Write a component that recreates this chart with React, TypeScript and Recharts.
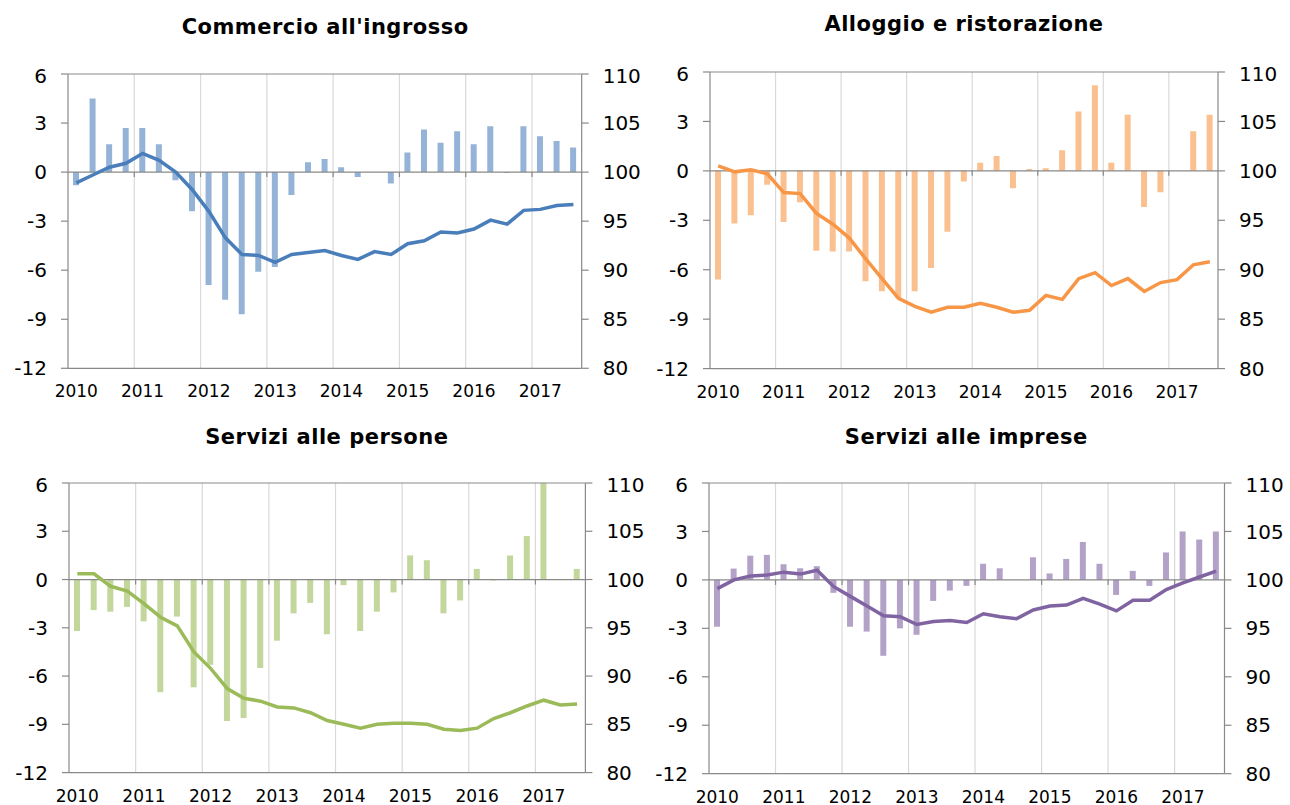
import { ComposedChart, Bar, Line, XAxis, YAxis, CartesianGrid, ReferenceLine } from 'recharts';

// trimestri 2010T1 - 2017T3
const quarters = [
  '2010T1', '2010T2', '2010T3', '2010T4',
  '2011T1', '2011T2', '2011T3', '2011T4',
  '2012T1', '2012T2', '2012T3', '2012T4',
  '2013T1', '2013T2', '2013T3', '2013T4',
  '2014T1', '2014T2', '2014T3', '2014T4',
  '2015T1', '2015T2', '2015T3', '2015T4',
  '2016T1', '2016T2', '2016T3', '2016T4',
  '2017T1', '2017T2', '2017T3',
];

const leftTicks = [-12, -9, -6, -3, 0, 3, 6];
const rightTicks = [80, 85, 90, 95, 100, 105, 110];
const yearBreaks = [4, 8, 12, 16, 20, 24, 28];

// variazioni (scala sinistra) e indice 2010=100 (scala destra)
const commercioVar = [
  -0.8, 4.5, 1.7, 2.7, 2.7, 1.7, -0.5, -2.4,
  -6.9, -7.8, -8.7, -6.1, -5.8, -1.4, 0.6, 0.8,
  0.3, -0.3, 0.0, -0.7, 1.2, 2.6, 1.8, 2.5,
  1.7, 2.8, -0.05, 2.8, 2.2, 1.9, 1.5,
];
const commercioIdx = [
  98.9, 99.7, 100.5, 100.9, 101.9, 101.2, 100.0, 98.2,
  96.0, 93.3, 91.6, 91.5, 90.8, 91.6, 91.8, 92.0,
  91.5, 91.1, 91.9, 91.6, 92.7, 93.0, 93.9, 93.8,
  94.2, 95.1, 94.7, 96.1, 96.2, 96.6, 96.7,
];

const alloggioVar = [
  -6.6, -3.2, -2.7, -0.85, -3.1, -1.9, -4.85, -4.9,
  -4.9, -6.7, -7.3, -7.7, -7.3, -5.9, -3.7, -0.65,
  0.5, 0.9, -1.05, 0.12, 0.16, 1.25, 3.6, 5.2,
  0.5, 3.4, -2.2, -1.3, 0.0, 2.4, 3.4,
];
const alloggioIdx = [
  100.5, 99.9, 100.1, 99.7, 97.8, 97.7, 95.7, 94.6,
  93.2, 91.1, 89.1, 87.1, 86.3, 85.7, 86.2, 86.2,
  86.6, 86.2, 85.7, 85.9, 87.4, 87.0, 89.1, 89.7,
  88.4, 89.1, 87.8, 88.7, 89.0, 90.5, 90.8,
];

const personeVar = [
  -3.2, -1.9, -2.0, -1.7, -2.6, -7.0, -2.3, -6.7,
  -5.3, -8.8, -8.6, -5.5, -3.8, -2.1, -1.45, -3.4,
  -0.35, -3.2, -2.0, -0.8, 1.5, 1.2, -2.1, -1.3,
  0.66, -0.06, 1.5, 2.7, 6.0, 0.04, 0.66,
];
const personeIdx = [
  100.6, 100.6, 99.3, 98.8, 97.5, 96.1, 95.2, 92.5,
  90.8, 88.7, 87.7, 87.4, 86.8, 86.7, 86.2, 85.4,
  85.0, 84.6, 85.0, 85.1, 85.1, 85.0, 84.5, 84.35,
  84.6, 85.6, 86.2, 86.9, 87.5, 87.0, 87.1,
];

const impreseVar = [
  -2.9, 0.7, 1.5, 1.55, 0.97, 0.72, 0.85, -0.8,
  -2.9, -3.2, -4.7, -3.0, -3.4, -1.3, -0.66, -0.37,
  1.0, 0.72, 0.0, 1.4, 0.4, 1.3, 2.35, 1.0,
  -0.93, 0.56, -0.37, 1.7, 3.0, 2.5, 3.0,
];
const impreseIdx = [
  99.1, 100.0, 100.4, 100.5, 100.8, 100.6, 101.0, 99.3,
  98.3, 97.3, 96.3, 96.2, 95.4, 95.7, 95.8, 95.6,
  96.5, 96.2, 96.0, 96.9, 97.3, 97.4, 98.1, 97.5,
  96.8, 97.9, 97.9, 99.0, 99.7, 100.3, 100.9,
];

const AXIS = '#898989';
const GRID = '#D9D9D9';
const FONT = '"DejaVu Sans", Verdana, sans-serif';

interface PanelProps {
  title: string;
  titleTop: number;
  left: number;
  top: number;
  right: number;
  bottom: number;
  bars: number[];
  index: number[];
  barColor: string;
  lineColor: string;
}

function ZeroAxis(props: any) {
  const { x1, x2, y1 } = props;
  const step = (x2 - x1) / quarters.length;
  return (
    <g>
      <line x1={x1} x2={x2} y1={y1} y2={y1} stroke={AXIS} strokeWidth={1.2} />
      {yearBreaks.map((k) => (
        <line key={k} x1={x1 + k * step} x2={x1 + k * step} y1={y1} y2={y1 + 5} stroke={AXIS} strokeWidth={1.2} />
      ))}
    </g>
  );
}

function Panel({ title, titleTop, left, top, right, bottom, bars, index, barColor, lineColor }: PanelProps) {
  const axisW = 70;
  const plotW = right - left;
  const plotH = bottom - top;
  const data = quarters.map((q, i) => ({ q, v: bars[i], idx: index[i] }));
  const tickStyle = { fontSize: 20, fill: '#000', fontFamily: FONT };

  return (
    <>
      <div
        style={{
          position: 'absolute',
          left: left,
          top: titleTop,
          width: plotW,
          textAlign: 'center',
          fontFamily: FONT,
          fontWeight: 'bold',
          fontSize: 21,
          letterSpacing: 0.5,
          color: '#000',
          whiteSpace: 'nowrap',
        }}
      >
        {title}
      </div>
      <div style={{ position: 'absolute', left: left - axisW, top: top - 10 }}>
        <ComposedChart
          width={plotW + 2 * axisW}
          height={plotH + 10 + 40}
          data={data}
          margin={{ top: 10, right: 0, left: 0, bottom: 0 }}
          barCategoryGap="62%"
        >
          <CartesianGrid
            horizontal={false}
            stroke={GRID}
            strokeWidth={1.2}
            verticalCoordinatesGenerator={({ offset }: any) =>
              yearBreaks.map((k) => offset.left + (k * offset.width) / quarters.length)
            }
          />
          <XAxis
            dataKey="q"
            interval={3}
            tickLine={false}
            tickSize={0}
            tickMargin={17}
            height={40}
            axisLine={{ stroke: AXIS, strokeWidth: 1.2 }}
            tick={{ fontSize: 17, fill: '#000', fontFamily: FONT }}
            tickFormatter={(v: string) => v.slice(0, 4)}
          />
          <YAxis
            yAxisId="left"
            orientation="left"
            width={axisW}
            domain={[-12, 6]}
            ticks={leftTicks}
            allowDataOverflow
            tickSize={7}
            tickMargin={14}
            axisLine={{ stroke: AXIS, strokeWidth: 1.2 }}
            tickLine={{ stroke: AXIS, strokeWidth: 1.2 }}
            tick={tickStyle}
          />
          <YAxis
            yAxisId="right"
            orientation="right"
            width={axisW}
            domain={[80, 110]}
            ticks={rightTicks}
            allowDataOverflow
            tickSize={7}
            tickMargin={14}
            axisLine={{ stroke: AXIS, strokeWidth: 1.2 }}
            tickLine={{ stroke: AXIS, strokeWidth: 1.2 }}
            tick={{ ...tickStyle, textAnchor: 'start' }}
          />
          <ReferenceLine yAxisId="left" y={6} stroke={AXIS} strokeWidth={1.2} />
          <Bar yAxisId="left" dataKey="v" fill={barColor} barSize={6} isAnimationActive={false} />
          <ReferenceLine yAxisId="left" y={0} shape={ZeroAxis} />
          <Line
            yAxisId="right"
            dataKey="idx"
            type="linear"
            stroke={lineColor}
            strokeWidth={3.5}
            dot={false}
            isAnimationActive={false}
          />
        </ComposedChart>
      </div>
    </>
  );
}

export default function App() {
  return (
    <div style={{ position: 'absolute', left: 0, top: 0, width: 1290, height: 805, background: '#fff' }}>
      <Panel
        title="Commercio all'ingrosso"
        titleTop={15}
        left={68.3}
        top={74}
        right={582}
        bottom={368.3}
        bars={commercioVar}
        index={commercioIdx}
        barColor="#95B3D7"
        lineColor="#4A7EBB"
      />
      <Panel
        title="Alloggio e ristorazione"
        titleTop={12}
        left={710}
        top={71.7}
        right={1218}
        bottom={368.3}
        bars={alloggioVar}
        index={alloggioIdx}
        barColor="#FAC090"
        lineColor="#F79646"
      />
      <Panel
        title="Servizi alle persone"
        titleTop={425}
        left={68.6}
        top={482.7}
        right={585}
        bottom={772.3}
        bars={personeVar}
        index={personeIdx}
        barColor="#C3D69B"
        lineColor="#9BBB59"
      />
      <Panel
        title="Servizi alle imprese"
        titleTop={425}
        left={708.5}
        top={483.3}
        right={1224}
        bottom={774}
        bars={impreseVar}
        index={impreseIdx}
        barColor="#B3A2C7"
        lineColor="#8064A2"
      />
    </div>
  );
}
